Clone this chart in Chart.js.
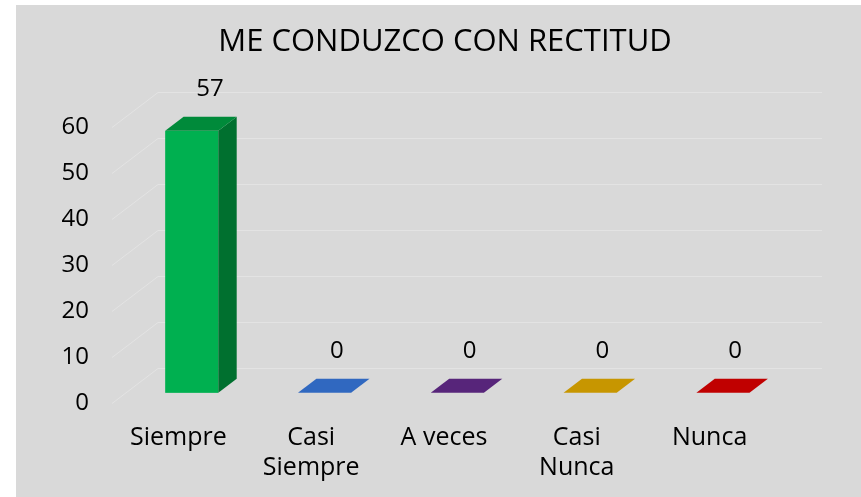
<!DOCTYPE html>
<html>
<head>
<meta charset="utf-8">
<script src="https://cdn.jsdelivr.net/npm/chart.js@4.4.0/dist/chart.umd.min.js"></script>
<style>
html, body { margin: 0; padding: 0; background: #fff; }
#box { position: absolute; left: 16px; top: 5px; width: 845px; height: 492px; background: #d9d9d9; }
</style>
</head>
<body>
<div id="box"><canvas id="chart"></canvas></div>
<script>
const categories = ['Siempre', ['Casi', 'Siempre'], 'A veces', ['Casi', 'Nunca'], 'Nunca'];
const responses = [57, 0, 0, 0, 0];
const yMax = 60;
const yStep = 10;

// face colours of the 3d bars
const frontColors = ['#00b050', '#3a72cc', '#642c88', '#d9a300', '#d00000'];
const sideColors = ['#00702f', '#24539a', '#441c5e', '#a07800', '#940000'];
const topColors = ['#008a3a', '#3068c0', '#57257a', '#c79600', '#c00000'];

// depth of the floor/walls, and where the bars sit inside it
const WALL_DX = 46, WALL_DY = -35;
const BAR_FRONT = 0.29, BAR_BACK = 0.69;
const FONT = '"Open Sans", sans-serif';

const walls = {
    id: 'walls',
    beforeDatasetsDraw(chart) {
        const { ctx, chartArea } = chart;
        const ys = chart.scales.y;
        ctx.save();
        ctx.strokeStyle = '#e3e3e3';
        ctx.lineWidth = 1;
        ys.ticks.forEach(t => {
            const y = Math.round(ys.getPixelForValue(t.value)) + 0.5;
            ctx.beginPath();
            ctx.moveTo(chartArea.left, y);
            ctx.lineTo(chartArea.left + WALL_DX, y + WALL_DY);
            ctx.lineTo(chartArea.right + WALL_DX, y + WALL_DY);
            ctx.stroke();
        });
        ctx.restore();
    }
};

const bars3d = {
    id: 'bars3d',
    afterDatasetsDraw(chart) {
        const { ctx } = chart;
        const meta = chart.getDatasetMeta(0);
        const ddx = WALL_DX * (BAR_BACK - BAR_FRONT);
        const ddy = WALL_DY * (BAR_BACK - BAR_FRONT);
        ctx.save();
        meta.data.forEach((bar, i) => {
            const { x, y, base, width } = bar.getProps(['x', 'y', 'base', 'width'], true);
            const l = x - width / 2 + WALL_DX * BAR_FRONT;
            const r = l + width;
            const t = y + WALL_DY * BAR_FRONT;
            const b = base + WALL_DY * BAR_FRONT;
            if (b - t > 0.5) {
                ctx.fillStyle = frontColors[i];
                ctx.fillRect(l, t, width, b - t);
                ctx.fillStyle = sideColors[i];
                ctx.beginPath();
                ctx.moveTo(r, b);
                ctx.lineTo(r, t);
                ctx.lineTo(r + ddx, t + ddy);
                ctx.lineTo(r + ddx, b + ddy);
                ctx.closePath();
                ctx.fill();
            }
            ctx.fillStyle = topColors[i];
            ctx.beginPath();
            ctx.moveTo(l, t);
            ctx.lineTo(r, t);
            ctx.lineTo(r + ddx, t + ddy);
            ctx.lineTo(l + ddx, t + ddy);
            ctx.closePath();
            ctx.fill();

            ctx.fillStyle = '#000';
            ctx.font = '24px ' + FONT;
            ctx.textAlign = 'center';
            ctx.textBaseline = 'middle';
            const nudge = b - t > 0.5 ? 9 : 3;
            ctx.fillText(String(responses[i]), l + width / 2 + ddx / 2 + nudge, t + ddy - 28);
        });
        ctx.restore();
    }
};

new Chart(document.getElementById('chart'), {
    type: 'bar',
    data: {
        labels: categories,
        datasets: [{
            data: responses,
            backgroundColor: 'rgba(0,0,0,0)',
            categoryPercentage: 1,
            barPercentage: 0.4
        }]
    },
    options: {
        responsive: true,
        maintainAspectRatio: false,
        animation: false,
        layout: { padding: { left: 13, right: 0 } },
        plugins: {
            legend: { display: false },
            tooltip: { enabled: false },
            title: {
                display: true,
                text: 'ME CONDUZCO CON RECTITUD',
                color: '#000',
                font: { family: FONT, size: 31, weight: 'normal' },
                padding: { top: 19, bottom: 66 }
            }
        },
        scales: {
            x: {
                grid: { display: false },
                border: { display: false },
                ticks: {
                    color: '#000',
                    font: { family: FONT, size: 25, lineHeight: 1.2 },
                    padding: 12,
                    maxRotation: 0,
                    autoSkip: false
                },
                afterFit: s => { s.height = 94; }
            },
            y: {
                min: 0,
                max: yMax,
                grid: { display: false },
                border: { display: false },
                ticks: {
                    stepSize: yStep,
                    color: '#000',
                    font: { family: FONT, size: 24 },
                    padding: 15
                },
                afterFit: s => { s.width = 83; }
            },
            // empty right-hand axis keeps room for the back wall depth
            yRight: {
                position: 'right',
                min: 0,
                max: yMax,
                grid: { display: false },
                border: { display: false },
                ticks: { display: false },
                afterFit: s => { s.width = 85; }
            }
        }
    },
    plugins: [walls, bars3d]
});
</script>
</body>
</html>
